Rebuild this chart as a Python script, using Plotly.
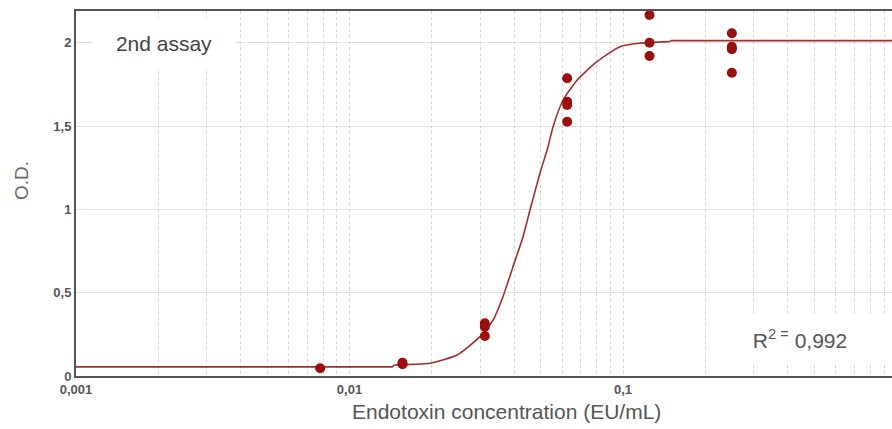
import plotly.graph_objects as go

# Endotoxin standard series (EU/mL) and replicate O.D. readings
conc = [0.0078125, 0.015625, 0.03125, 0.0625, 0.125, 0.25]
od_replicates = [
    [0.046],
    [0.070, 0.080],
    [0.316, 0.296, 0.240],
    [1.786, 1.646, 1.626, 1.526],
    [2.196, 2.166, 2.000, 1.920],
    [2.056, 1.975, 1.960, 1.820],
]

# Fitted standard curve: lower plateau, sigmoid section, upper plateau
low_x = [0.001, 0.0143, 0.0146]
low_y = [0.055, 0.055, 0.066]
fit_x = [0.0146, 0.0170, 0.0197, 0.0247, 0.0300, 0.0335, 0.0364,
         0.0396, 0.0431, 0.0457, 0.0497, 0.0532, 0.0555, 0.0604, 0.0680, 0.0803,
         0.0975, 0.1150, 0.1480]
fit_y = [0.066, 0.070, 0.076, 0.126, 0.236, 0.336, 0.476,
         0.656, 0.836, 0.996, 1.216, 1.376, 1.496, 1.656, 1.776, 1.886,
         1.976, 1.996, 2.006]
high_x = [0.1480, 0.1500, 1.0]
high_y = [2.006, 2.012, 2.012]

r_squared = "0,992"
assay_label = "2nd assay"

x_tickvals = [0.001, 0.01, 0.1]
x_ticktext = ["0,001", "0,01", "0,1"]
y_tickvals = [0, 0.5, 1, 1.5, 2]
y_ticktext = ["0", "0,5", "1", "1,5", "2"]

pts_x = [c for c, reps in zip(conc, od_replicates) for _ in reps]
pts_y = [v for reps in od_replicates for v in reps]

minor_vals = [m * 10 ** e for e in (-3, -2, -1) for m in range(2, 10)]

FONT = "Liberation Sans, Arial, sans-serif"
CURVE = "#a0302e"

fig = go.Figure()
for xs, ys, shape in ((low_x, low_y, "linear"),
                      (fit_x, fit_y, "spline"),
                      (high_x, high_y, "linear")):
    fig.add_trace(go.Scatter(
        x=xs, y=ys, mode="lines",
        line=dict(color=CURVE, width=1.6, shape=shape, smoothing=0.6),
        hoverinfo="skip", showlegend=False,
    ))
fig.add_trace(go.Scatter(
    x=pts_x, y=pts_y, mode="markers",
    marker=dict(color="#9a0e0e", size=10),
    cliponaxis=False, showlegend=False,
))

fig.update_layout(
    width=892, height=429,
    margin=dict(l=76, r=0, t=11, b=53),
    paper_bgcolor="white", plot_bgcolor="white",
    font=dict(family=FONT, color="#555"),
    xaxis=dict(
        type="log", range=[-3, -0.0165],
        tickvals=x_tickvals, ticktext=x_ticktext,
        tickfont=dict(size=13, color="#555", weight="bold"),
        showgrid=True, gridcolor="#d6d6d6", griddash="dot", gridwidth=1,
        minor=dict(tickvals=minor_vals, showgrid=True, gridcolor="#d6d6d6",
                   griddash="dot", gridwidth=1, ticks=""),
        showline=True, linecolor="#555", linewidth=2, mirror=True,
        ticks="", zeroline=False,
    ),
    yaxis=dict(
        range=[0, 2.19],
        tickvals=y_tickvals, ticktext=y_ticktext,
        tickfont=dict(size=13, color="#555", weight="bold"),
        showgrid=True, gridcolor="#e0e0e0", gridwidth=1,
        showline=True, linecolor="#555", linewidth=2, mirror=False,
        ticks="", ticklen=0, zeroline=False,
    ),
    annotations=[
        dict(text="Endotoxin concentration (EU/mL)", xref="paper", yref="paper",
             x=0.527, y=-0.0986, xanchor="center", yanchor="middle",
             showarrow=False, font=dict(size=21, color="#555", family=FONT)),
        dict(text="O.D.", xref="paper", yref="paper", x=-0.0662, y=0.537,
             xanchor="center", yanchor="middle", textangle=-90,
             showarrow=False, font=dict(size=19, color="#666", family=FONT)),
        dict(text=assay_label, xref="paper", yref="paper", x=0.108, y=0.912,
             xanchor="center", yanchor="middle", showarrow=False,
             width=140, height=47, bgcolor="white",
             font=dict(size=21, color="#444", family=FONT)),
        dict(text="R<sup>2 =</sup> " + r_squared, xref="paper", yref="paper",
             x=0.887, y=0.101, xanchor="center", yanchor="middle",
             showarrow=False, width=170, height=42, bgcolor="white",
             font=dict(size=21, color="#555", family=FONT)),
    ],
)

fig.write_html("out.html")
